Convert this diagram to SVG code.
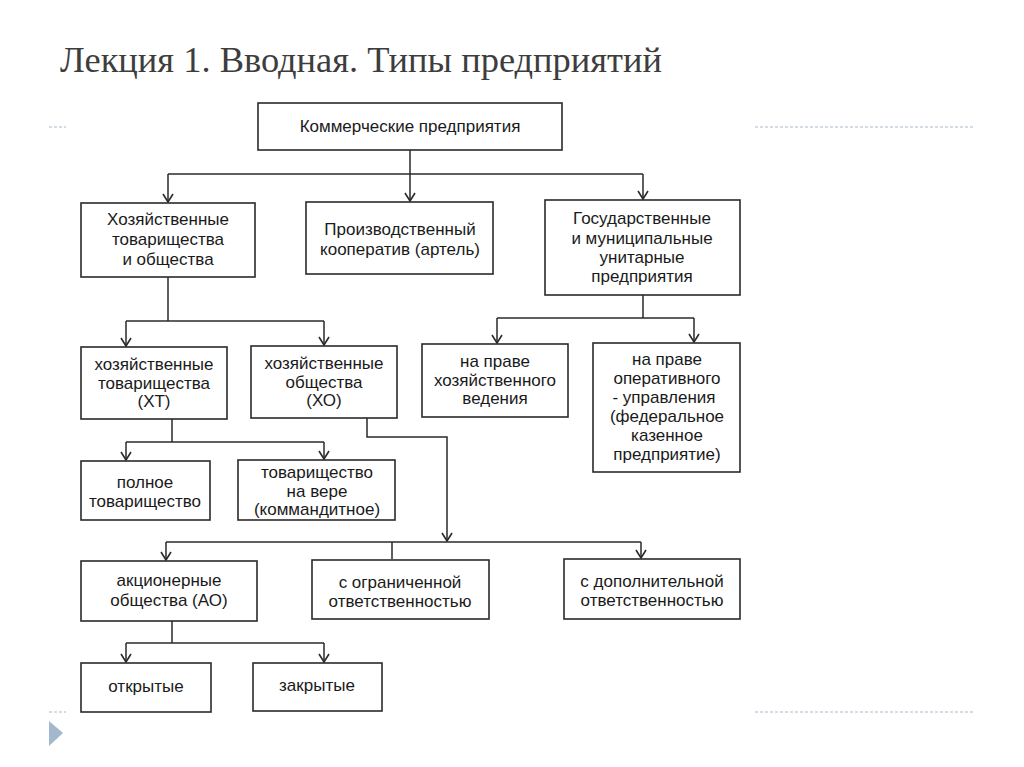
<svg xmlns="http://www.w3.org/2000/svg" width="1024" height="767" viewBox="0 0 1024 767">
<defs>
<style>
.box{fill:#fff;stroke:#2a2a2a;stroke-width:1.6}
.t{font-family:"Liberation Sans",Arial,sans-serif;font-size:17px;fill:#1a1a1a;text-anchor:middle}
.c{fill:none;stroke:#2a2a2a;stroke-width:1.5}
.dash{stroke:#a9bccd;stroke-width:1.2;stroke-dasharray:3 2;fill:none}
</style>
<marker id="arr" viewBox="0 0 10 12" refX="9" refY="6" markerWidth="10" markerHeight="12" markerUnits="userSpaceOnUse" orient="auto">
<path d="M1,1 L9,6 L1,11" fill="none" stroke="#2a2a2a" stroke-width="1.6"/>
</marker>
</defs>
<rect width="1024" height="767" fill="#fff"/>
<text x="60" y="72" font-family="'Liberation Serif',serif" font-size="35" fill="#3d3d3d" textLength="602" lengthAdjust="spacingAndGlyphs">Лекция 1. Вводная. Типы предприятий</text>
<g id="decor">
<line class="dash" x1="49" y1="127" x2="66" y2="127"/>
<line class="dash" x1="755" y1="127" x2="975" y2="127"/>
<line class="dash" x1="49" y1="712" x2="66" y2="712"/>
<line class="dash" x1="755" y1="712" x2="975" y2="712"/>
<polygon points="49,721 63,733 49,746" fill="#a3b8cc"/>
</g>
<g id="connectors">
<path class="c" d="M410,150 V174"/>
<path class="c" d="M168,174 H643"/>
<path class="c" d="M168,174 V202" marker-end="url(#arr)"/>
<path class="c" d="M410,174 V201" marker-end="url(#arr)"/>
<path class="c" d="M643,174 V199" marker-end="url(#arr)"/>
<path class="c" d="M168,277 V321"/>
<path class="c" d="M126,321 H324"/>
<path class="c" d="M126,321 V346" marker-end="url(#arr)"/>
<path class="c" d="M324,321 V345" marker-end="url(#arr)"/>
<path class="c" d="M643,295 V318"/>
<path class="c" d="M497,318 H694"/>
<path class="c" d="M497,318 V343" marker-end="url(#arr)"/>
<path class="c" d="M694,318 V342" marker-end="url(#arr)"/>
<path class="c" d="M172,419 V442"/>
<path class="c" d="M126,442 H324"/>
<path class="c" d="M126,442 V460" marker-end="url(#arr)"/>
<path class="c" d="M324,442 V459" marker-end="url(#arr)"/>
<path class="c" d="M367,418 V437 H447 V541" marker-end="url(#arr)"/>
<path class="c" d="M166,542 H641"/>
<path class="c" d="M166,542 V560" marker-end="url(#arr)"/>
<path class="c" d="M392,542 V559"/>
<path class="c" d="M641,542 V558" marker-end="url(#arr)"/>
<path class="c" d="M172,621 V643"/>
<path class="c" d="M126,643 H324"/>
<path class="c" d="M126,643 V662" marker-end="url(#arr)"/>
<path class="c" d="M324,643 V662" marker-end="url(#arr)"/>
</g>
<g id="n-commercial">
<rect class="box" x="258" y="103" width="304" height="47"/>
<text class="t" x="410" y="132">Коммерческие предприятия</text>
</g>
<g id="n-hoz">
<rect class="box" x="81" y="203" width="174" height="74"/>
<text class="t" x="168" y="225">Хозяйственные</text>
<text class="t" x="168" y="245">товарищества</text>
<text class="t" x="168" y="265">и общества</text>
</g>
<g id="n-coop">
<rect class="box" x="306" y="202" width="187" height="72"/>
<text class="t" x="400" y="235">Производственный</text>
<text class="t" x="400" y="255">кооператив (артель)</text>
</g>
<g id="n-gov">
<rect class="box" x="545" y="200" width="195" height="95"/>
<text class="t" x="642" y="224">Государственные</text>
<text class="t" x="642" y="244">и муниципальные</text>
<text class="t" x="642" y="263">унитарные</text>
<text class="t" x="642" y="282">предприятия</text>
</g>
<g id="n-ht">
<rect class="box" x="81" y="347" width="146" height="72"/>
<text class="t" x="154" y="370">хозяйственные</text>
<text class="t" x="154" y="389">товарищества</text>
<text class="t" x="154" y="407">(ХТ)</text>
</g>
<g id="n-ho">
<rect class="box" x="251" y="346" width="146" height="72"/>
<text class="t" x="324" y="369">хозяйственные</text>
<text class="t" x="324" y="388">общества</text>
<text class="t" x="324" y="406">(ХО)</text>
</g>
<g id="n-hozved">
<rect class="box" x="422" y="344" width="146" height="73"/>
<text class="t" x="495" y="367">на праве</text>
<text class="t" x="495" y="386">хозяйственного</text>
<text class="t" x="495" y="404">ведения</text>
</g>
<g id="n-oper">
<rect class="box" x="593" y="343" width="147" height="129"/>
<text class="t" x="667" y="365">на праве</text>
<text class="t" x="667" y="384">оперативного</text>
<text class="t" x="664" y="403">- управления</text>
<text class="t" x="667" y="422">(федеральное</text>
<text class="t" x="667" y="441">казенное</text>
<text class="t" x="667" y="460">предприятие)</text>
</g>
<g id="n-full">
<rect class="box" x="81" y="461" width="129" height="59"/>
<text class="t" x="145" y="488">полное</text>
<text class="t" x="145" y="507">товарищество</text>
</g>
<g id="n-vera">
<rect class="box" x="238" y="460" width="157" height="60"/>
<text class="t" x="317" y="478">товарищество</text>
<text class="t" x="317" y="497">на вере</text>
<text class="t" x="317" y="515">(коммандитное)</text>
</g>
<g id="n-ao">
<rect class="box" x="81" y="561" width="176" height="60"/>
<text class="t" x="169" y="586">акционерные</text>
<text class="t" x="169" y="606">общества (АО)</text>
</g>
<g id="n-ooo">
<rect class="box" x="312" y="560" width="177" height="59"/>
<text class="t" x="400" y="588">с ограниченной</text>
<text class="t" x="400" y="607">ответственностью</text>
</g>
<g id="n-odo">
<rect class="box" x="564" y="559" width="176" height="60"/>
<text class="t" x="652" y="587">с дополнительной</text>
<text class="t" x="652" y="606">ответственностью</text>
</g>
<g id="n-open">
<rect class="box" x="81" y="663" width="130" height="49"/>
<text class="t" x="146" y="692">открытые</text>
</g>
<g id="n-closed">
<rect class="box" x="253" y="663" width="129" height="48"/>
<text class="t" x="317" y="691">закрытые</text>
</g>
</svg>
